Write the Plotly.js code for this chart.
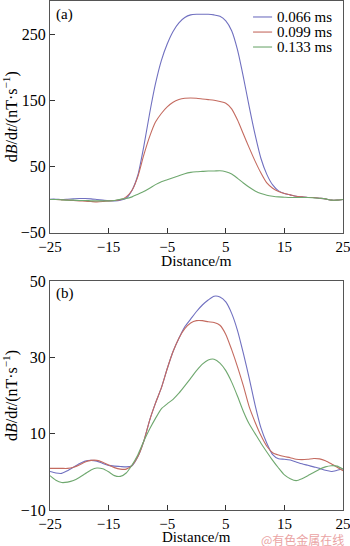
<!DOCTYPE html>
<html><head><meta charset="utf-8">
<script src="https://cdn.plot.ly/plotly-3.0.1.min.js"></script>
<style>html,body{margin:0;padding:0;background:#fff}#chart{width:350px;height:546px}</style>
</head><body><div id="chart"></div>
<script>
// Distance along profile (m)
const distance = [-25,-24,-23,-22,-21,-20,-19,-18,-17,-16,-15,-14,-13,-12,-11,-10,-9,-8,-7,-6,-5,-4,-3,-2,-1,0,1,2,3,4,5,6,7,8,9,10,11,12,13,14,15,16,17,18,19,20,21,22,23,24,25];
const seriesNames = ['0.066 ms','0.099 ms','0.133 ms'];
const seriesColors = ['#7070c0','#c46b60','#6fa86f'];

// Panel (a)
const a066 = [0.5,0.5,0,0.5,1,1.5,1.5,1,0,-1,-2,-2,-1,2,14,37,80,130,175,210,235,254,267,275,279,280,280,280,279,277,270,255,226,185,140,98,62,38,22,13,9,7,5,4,3,3,2,1,-1,-1,0];
const a099 = [0,0,-0.5,-1,-1.5,-2,-2.5,-3,-3.5,-3,-2,-1.5,-0.5,4,14,35,67,95,117,130,140,147,151,153,153.5,153,152,151,150,148,145.5,137,120,99,78,58,40,25,17,12,9,7,5,4,3,3,2,1,-1,-1,0];
const a133 = [0,0,-0.5,-1,-1,-1.5,-1.5,-2,-2,-2,-2,-1.5,0.5,1.5,4,8,12,17,22.5,27,30,33,36,39,41,42,42.5,43,43,43.5,42,38.5,32,25,18.5,13,9,6.5,5,4,3.5,3,3,3,3,2.5,2,1,-1,-1,0];

// Panel (b)
const b066 = [0.1,-0.3,-0.4,0.3,1.2,2.1,2.8,3.0,2.8,2.2,1.7,1.5,1.4,1.3,1.6,4.0,8.0,13.5,18,22,27,31.5,35,38,40,42,43.7,45,46,45.8,44.5,41.5,37,31,24.5,17.5,11.5,7.5,4.5,3.4,3.3,3.1,2.6,2.1,1.7,1.3,0.9,0.4,0.1,0.4,0.8];
const b099 = [0.9,0.9,0.9,0.9,1.2,1.8,2.6,3.0,3.0,2.5,1.8,1.1,0.7,0.7,1.7,4.0,8.0,13.5,18,22,27,31.5,35,37.5,39,39.6,39.6,39.3,39.1,38.4,36,32,27.5,22.5,17,13,9.5,6.7,5,4.4,4,3.7,3.3,3.2,3.3,3.5,3.4,2.9,2.1,1.2,0.3];
const b133 = [-1.0,-2.2,-2.8,-2.7,-2.3,-1.5,-0.5,0.5,1.0,0.8,0,-1.0,-1.2,-0.3,1.8,4.5,8,11.2,14,16.5,17.8,19,20.6,22.5,24.5,26.5,28.2,29.3,29.5,28.5,26.5,23.5,19.8,15.8,12.5,10,7.5,5.2,3.0,1.0,-0.8,-1.8,-2.3,-1.8,-1.0,-0.2,0.7,1.3,1.6,1.5,0.7];

const xTicks = [-25,-15,-5,5,15,25];
const yTicksA = [-50,50,150,250];
const yTicksB = [-10,10,30,50];
const xTitle = 'Distance/m';
const yTitle = 'd<i>B</i>/d<i>t</i>/(nT·s<sup>−1</sup>)';
const panelLabels = ['(a)','(b)'];
const watermark = '@有色金属在线';

const serif = 'Liberation Serif, Times New Roman, serif';
const panelA = [a066,a099,a133];
const panelB = [b066,b099,b133];
const traces = [];
panelA.forEach((ys,i)=>traces.push({x:distance,y:ys,name:seriesNames[i],type:'scatter',mode:'lines',
  line:{color:seriesColors[i],width:1.1,shape:'spline',smoothing:0.6},xaxis:'x',yaxis:'y',showlegend:false}));
panelB.forEach((ys,i)=>traces.push({x:distance,y:ys,name:seriesNames[i],type:'scatter',mode:'lines',
  line:{color:seriesColors[i],width:1.1,shape:'spline',smoothing:0.6},xaxis:'x2',yaxis:'y2',showlegend:false}));

const fmt = v => v<0 ? '−'+Math.abs(v) : String(v);
function xax(anchor){return {range:[-25,25],tickvals:xTicks,ticktext:xTicks.map(fmt),ticklabeloverflow:'allow',
  ticks:'inside',ticklen:5,tickcolor:'#333',showline:true,linecolor:'#555',linewidth:1,mirror:true,
  showgrid:false,zeroline:false,anchor:anchor,tickfont:{family:serif,size:15,color:'#000'}};}
function yax(range,ticks,domain,anchor){return {range:range,tickvals:ticks,ticktext:ticks.map(fmt),ticklabeloverflow:'allow',
  ticks:'inside',ticklen:5,tickcolor:'#333',showline:true,linecolor:'#555',linewidth:1,mirror:true,
  showgrid:false,zeroline:false,domain:domain,anchor:anchor,tickfont:{family:serif,size:16,color:'#000'},
  title:{text:yTitle,font:{family:serif,size:16,color:'#000'},standoff:3}};}

// custom legend (text + sample lines) in paper coordinates
const legY = [0.9686,0.939,0.9096];
const shapes = seriesNames.map((n,i)=>({type:'line',xref:'paper',yref:'paper',x0:0.693,x1:0.758,y0:legY[i],y1:legY[i],
  line:{color:seriesColors[i],width:1.1}}));
const annotations = seriesNames.map((n,i)=>({text:n,xref:'paper',yref:'paper',x:0.768,y:legY[i],xanchor:'left',yanchor:'middle',
  showarrow:false,font:{family:serif,size:15,color:'#000'}}));
annotations.push({text:panelLabels[0],xref:'paper',yref:'paper',x:0.015,y:0.9725,xanchor:'left',yanchor:'middle',showarrow:false,font:{family:serif,size:15,color:'#000'}});
annotations.push({text:panelLabels[1],xref:'paper',yref:'paper',x:0.015,y:0.426,xanchor:'left',yanchor:'middle',showarrow:false,font:{family:serif,size:15,color:'#000'}});
// x-axis titles
annotations.push({text:xTitle,xref:'paper',yref:'paper',x:0.5,y:0.491,xanchor:'center',yanchor:'middle',showarrow:false,font:{family:serif,size:15.5,color:'#000'}});
annotations.push({text:xTitle,xref:'paper',yref:'paper',x:0.5,y:-0.053,xanchor:'center',yanchor:'middle',showarrow:false,font:{family:serif,size:15,color:'#000'}});
annotations.push({text:watermark,xref:'paper',yref:'paper',x:1.01,y:-0.057,xanchor:'right',yanchor:'middle',showarrow:false,
  font:{family:'Noto Sans CJK SC, sans-serif',size:12,color:'#eaa3a3'}});

const layout = {width:350,height:546,margin:{l:50,r:7,t:1,b:36},paper_bgcolor:'#fff',plot_bgcolor:'#fff',
  showlegend:false,
  xaxis:xax('y'),yaxis:yax([-50,300],yTicksA,[0.545,1],'x'),
  xaxis2:xax('y2'),yaxis2:yax([-10,50],yTicksB,[0,0.450],'x2'),
  shapes:shapes,annotations:annotations};
Plotly.newPlot('chart',traces,layout,{staticPlot:true,displayModeBar:false});
</script></body></html>
